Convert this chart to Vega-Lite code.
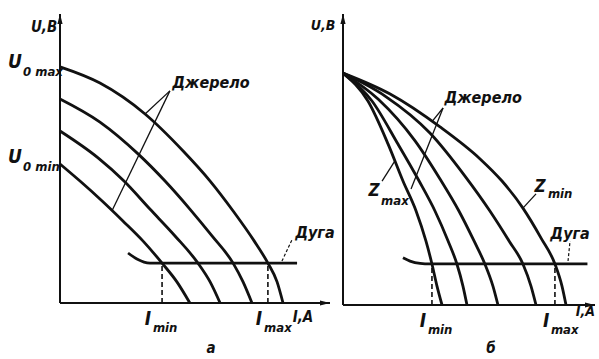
{
  "$schema": "https://vega.github.io/schema/vega-lite/v6.json",
  "background": "white",
  "padding": {"left": 7, "top": 10, "right": 0, "bottom": 0},
  "spacing": 13,
  "bounds": "flush",
  "config": {
    "view": {"stroke": null},
    "text": {"font": "Liberation Sans Narrow, DejaVu Sans Condensed, Liberation Sans", "fontStyle": "italic", "fontWeight": "bold", "color": "#111"},
    "line": {"color": "#111"},
    "point": {"color": "#111", "filled": true, "opacity": 1}
  },
  "datasets": {
    "axes": [
      {"a": "y", "I": 0, "U": 0}, {"a": "y", "I": 0, "U": 100},
      {"a": "x", "I": 0, "U": 0}, {"a": "x", "I": 100, "U": 0}
    ],
    "tipUp": [{"I": 0, "U": 100}],
    "tipRight": [{"I": 100, "U": 0}],
    "leftCurves": [
      {"c": 1, "I": 0, "U": 81.7}, {"c": 1, "I": 14.8, "U": 76.1}, {"c": 1, "I": 31.5, "U": 65.4}, {"c": 1, "I": 45.6, "U": 52.6}, {"c": 1, "I": 55.6, "U": 42.2}, {"c": 1, "I": 64.4, "U": 31.5}, {"c": 1, "I": 71.9, "U": 21.5}, {"c": 1, "I": 77.0, "U": 13.8}, {"c": 1, "I": 80.4, "U": 7.3}, {"c": 1, "I": 82.6, "U": 0},
      {"c": 2, "I": 0, "U": 70.6}, {"c": 2, "I": 14.8, "U": 62.6}, {"c": 2, "I": 28.9, "U": 51.6}, {"c": 2, "I": 38.9, "U": 42.2}, {"c": 2, "I": 48.1, "U": 32.5}, {"c": 2, "I": 56.3, "U": 23.2}, {"c": 2, "I": 64.1, "U": 13.8}, {"c": 2, "I": 67.8, "U": 7.3}, {"c": 2, "I": 71.1, "U": 0},
      {"c": 3, "I": 0, "U": 59.5}, {"c": 3, "I": 14.1, "U": 50.2}, {"c": 3, "I": 23.7, "U": 42.2}, {"c": 3, "I": 33.3, "U": 32.5}, {"c": 3, "I": 42.6, "U": 23.2}, {"c": 3, "I": 51.1, "U": 13.8}, {"c": 3, "I": 55.6, "U": 7.3}, {"c": 3, "I": 59.3, "U": 0},
      {"c": 4, "I": 0, "U": 48.1}, {"c": 4, "I": 7.4, "U": 42.2}, {"c": 4, "I": 15.6, "U": 35.3}, {"c": 4, "I": 23.3, "U": 28.4}, {"c": 4, "I": 30.7, "U": 21.5}, {"c": 4, "I": 37.8, "U": 13.8}, {"c": 4, "I": 43.3, "U": 7.3}, {"c": 4, "I": 48.1, "U": 0}
    ],
    "leftArc": [
      {"I": 25.2, "U": 17.3}, {"I": 28.5, "U": 15.2}, {"I": 33.3, "U": 13.8}, {"I": 40, "U": 13.8}, {"I": 87.8, "U": 13.8}
    ],
    "leftDrops": [
      {"k": "min", "I": 37.8, "U": 0}, {"k": "min", "I": 37.8, "U": 13.8},
      {"k": "max", "I": 77.0, "U": 0}, {"k": "max", "I": 77.0, "U": 13.8}
    ],
    "leftLeaders": [
      {"k": "s1", "I": 40.7, "U": 73.4}, {"k": "s1", "I": 31.5, "U": 65.4},
      {"k": "s2", "I": 40.7, "U": 73.4}, {"k": "s2", "I": 19.3, "U": 32.0}
    ],
    "leftArcLeader": [
      {"I": 82.2, "U": 14.5}, {"I": 85.9, "U": 21.8}
    ],
    "leftLabels": [
      {"kind": "big", "t": "U", "I": -16.7, "U": 83.4},
      {"kind": "sub", "t": "0 max", "I": -13.7, "U": 79.9},
      {"kind": "big", "t": "U", "I": -16.7, "U": 50.5},
      {"kind": "sub", "t": "0 min", "I": -13.7, "U": 47.2},
      {"kind": "big", "t": "I", "I": 32.6, "U": -5.5},
      {"kind": "sub", "t": "min", "I": 34.4, "U": -8.7},
      {"kind": "big", "t": "I", "I": 73.7, "U": -5.5},
      {"kind": "sub", "t": "max", "I": 75.6, "U": -8.7},
      {"kind": "word", "t": "Джерело", "I": 55.9, "U": 76.1},
      {"kind": "word", "t": "Дуга", "I": 94.4, "U": 24.2},
      {"kind": "unit", "t": "U,B", "I": -5.9, "U": 95.5},
      {"kind": "unit", "t": "I,A", "I": 90.0, "U": -4.8},
      {"kind": "letter", "t": "а", "I": 55.9, "U": -15.5}
    ],
    "rightCurves": [
      {"c": 1, "I": 0, "U": 79.7}, {"c": 1, "I": 9.9, "U": 70.1}, {"c": 1, "I": 17.9, "U": 55.3}, {"c": 1, "I": 23.8, "U": 42.6}, {"c": 1, "I": 29.0, "U": 32.3}, {"c": 1, "I": 32.9, "U": 22.0}, {"c": 1, "I": 35.3, "U": 14.1}, {"c": 1, "I": 37.3, "U": 6.5}, {"c": 1, "I": 39.3, "U": 0},
      {"c": 2, "I": 0, "U": 79.7}, {"c": 2, "I": 11.5, "U": 70.1}, {"c": 2, "I": 21.8, "U": 55.3}, {"c": 2, "I": 30.2, "U": 42.6}, {"c": 2, "I": 36.5, "U": 32.3}, {"c": 2, "I": 41.7, "U": 22.0}, {"c": 2, "I": 45.2, "U": 14.1}, {"c": 2, "I": 47.6, "U": 6.5}, {"c": 2, "I": 49.2, "U": 0},
      {"c": 3, "I": 0, "U": 79.7}, {"c": 3, "I": 13.9, "U": 70.8}, {"c": 3, "I": 28.6, "U": 56.4}, {"c": 3, "I": 38.5, "U": 43.3}, {"c": 3, "I": 46.0, "U": 32.3}, {"c": 3, "I": 52.0, "U": 22.0}, {"c": 3, "I": 56.3, "U": 14.1}, {"c": 3, "I": 59.5, "U": 6.5}, {"c": 3, "I": 61.5, "U": 0},
      {"c": 4, "I": 0, "U": 79.7}, {"c": 4, "I": 16.7, "U": 71.8}, {"c": 4, "I": 34.5, "U": 59.1}, {"c": 4, "I": 48.4, "U": 44.3}, {"c": 4, "I": 58.3, "U": 32.3}, {"c": 4, "I": 65.9, "U": 22.0}, {"c": 4, "I": 71.4, "U": 14.1}, {"c": 4, "I": 74.6, "U": 6.5}, {"c": 4, "I": 76.6, "U": 0},
      {"c": 5, "I": 0, "U": 79.7}, {"c": 5, "I": 18.7, "U": 72.5}, {"c": 5, "I": 38.5, "U": 61.2}, {"c": 5, "I": 54.4, "U": 50.2}, {"c": 5, "I": 63.1, "U": 42.6}, {"c": 5, "I": 71.4, "U": 33.3}, {"c": 5, "I": 78.6, "U": 23.0}, {"c": 5, "I": 84.1, "U": 14.1}, {"c": 5, "I": 86.9, "U": 6.5}, {"c": 5, "I": 88.5, "U": 0}
    ],
    "rightArc": [
      {"I": 23.8, "U": 16.2}, {"I": 26.6, "U": 15.1}, {"I": 30.6, "U": 14.3}, {"I": 34.5, "U": 14.1}, {"I": 97.0, "U": 14.1}
    ],
    "rightDrops": [
      {"k": "min", "I": 35.3, "U": 0}, {"k": "min", "I": 35.3, "U": 14.1},
      {"k": "max", "I": 84.1, "U": 0}, {"k": "max", "I": 84.1, "U": 14.1}
    ],
    "rightLeaders": [
      {"k": "s1", "I": 39.7, "U": 67.7}, {"k": "s1", "I": 35.3, "U": 63.0},
      {"k": "s2", "I": 39.7, "U": 67.7}, {"k": "s2", "I": 27.0, "U": 39.9},
      {"k": "zmax", "I": 15.5, "U": 42.6}, {"k": "zmax", "I": 20.6, "U": 49.5},
      {"k": "zmin", "I": 71.4, "U": 33.3}, {"k": "zmin", "I": 76.6, "U": 38.2}
    ],
    "rightArcLeader": [
      {"I": 90.1, "U": 22.0}, {"I": 89.3, "U": 15.1}
    ],
    "rightLabels": [
      {"kind": "big", "t": "I", "I": 31.7, "U": -5.5},
      {"kind": "sub", "t": "min", "I": 33.7, "U": -8.6},
      {"kind": "big", "t": "I", "I": 80.6, "U": -5.5},
      {"kind": "sub", "t": "max", "I": 82.5, "U": -8.6},
      {"kind": "zbig", "t": "Z", "I": 12.3, "U": 39.2},
      {"kind": "zsub", "t": "max", "I": 15.1, "U": 35.7},
      {"kind": "zbig", "t": "Z", "I": 78.2, "U": 40.5},
      {"kind": "zsub", "t": "min", "I": 81.3, "U": 38.1},
      {"kind": "word", "t": "Джерело", "I": 55.6, "U": 71.1},
      {"kind": "word", "t": "Дуга", "I": 90.1, "U": 24.4},
      {"kind": "unit", "t": "U,B", "I": -7.9, "U": 95.9},
      {"kind": "unit", "t": "I,A", "I": 96.2, "U": -2.4},
      {"kind": "letter", "t": "б", "I": 58.7, "U": -14.8}
    ]
  },
  "hconcat": [
    {
      "width": 270,
      "height": 289,
      "encoding": {
        "x": {"field": "I", "type": "quantitative", "scale": {"domain": [0, 100], "nice": false, "zero": false}, "axis": null},
        "y": {"field": "U", "type": "quantitative", "scale": {"domain": [0, 100], "nice": false, "zero": false}, "axis": null}
      },
      "layer": [
        {"data": {"name": "axes"}, "mark": {"type": "line", "strokeWidth": 2}, "encoding": {"detail": {"field": "a"}}},
        {"data": {"name": "tipUp"}, "mark": {"type": "point", "shape": "M0,0L-2.6,10L2.6,10Z", "size": 4}},
        {"data": {"name": "tipRight"}, "mark": {"type": "point", "shape": "M0,0L-10,-2.6L-10,2.6Z", "size": 4}},
        {"data": {"name": "leftCurves"}, "mark": {"type": "line", "strokeWidth": 2.8, "interpolate": "monotone"}, "encoding": {"detail": {"field": "c"}}},
        {"data": {"name": "leftArc"}, "mark": {"type": "line", "strokeWidth": 2.8, "interpolate": "monotone"}},
        {"data": {"name": "leftDrops"}, "mark": {"type": "line", "strokeWidth": 1.6, "strokeDash": [5, 3]}, "encoding": {"detail": {"field": "k"}}},
        {"data": {"name": "leftLeaders"}, "mark": {"type": "line", "strokeWidth": 1.3}, "encoding": {"detail": {"field": "k"}}},
        {"data": {"name": "leftArcLeader"}, "mark": {"type": "line", "strokeWidth": 1.2, "strokeDash": [3, 2]}},
        {"data": {"name": "leftLabels"}, "transform": [{"filter": "datum.kind === 'big'"}], "mark": {"type": "text", "fontSize": 19}, "encoding": {"text": {"field": "t"}}},
        {"data": {"name": "leftLabels"}, "transform": [{"filter": "datum.kind === 'sub'"}], "mark": {"type": "text", "fontSize": 13, "align": "left"}, "encoding": {"text": {"field": "t"}}},
        {"data": {"name": "leftLabels"}, "transform": [{"filter": "datum.kind === 'word'"}], "mark": {"type": "text", "fontSize": 16}, "encoding": {"text": {"field": "t"}}},
        {"data": {"name": "leftLabels"}, "transform": [{"filter": "datum.kind === 'unit'"}], "mark": {"type": "text", "fontSize": 15}, "encoding": {"text": {"field": "t"}}},
        {"data": {"name": "leftLabels"}, "transform": [{"filter": "datum.kind === 'letter'"}], "mark": {"type": "text", "fontSize": 15}, "encoding": {"text": {"field": "t"}}}
      ]
    },
    {
      "width": 252,
      "height": 291,
      "encoding": {
        "x": {"field": "I", "type": "quantitative", "scale": {"domain": [0, 100], "nice": false, "zero": false}, "axis": null},
        "y": {"field": "U", "type": "quantitative", "scale": {"domain": [0, 100], "nice": false, "zero": false}, "axis": null}
      },
      "layer": [
        {"data": {"name": "axes"}, "mark": {"type": "line", "strokeWidth": 2}, "encoding": {"detail": {"field": "a"}}},
        {"data": {"name": "tipUp"}, "mark": {"type": "point", "shape": "M0,0L-2.6,10L2.6,10Z", "size": 4}},
        {"data": {"name": "tipRight"}, "mark": {"type": "point", "shape": "M0,0L-10,-2.6L-10,2.6Z", "size": 4}},
        {"data": {"name": "rightCurves"}, "mark": {"type": "line", "strokeWidth": 2.8, "interpolate": "monotone"}, "encoding": {"detail": {"field": "c"}}},
        {"data": {"name": "rightArc"}, "mark": {"type": "line", "strokeWidth": 2.8, "interpolate": "monotone"}},
        {"data": {"name": "rightDrops"}, "mark": {"type": "line", "strokeWidth": 1.6, "strokeDash": [5, 3]}, "encoding": {"detail": {"field": "k"}}},
        {"data": {"name": "rightLeaders"}, "mark": {"type": "line", "strokeWidth": 1.3}, "encoding": {"detail": {"field": "k"}}},
        {"data": {"name": "rightArcLeader"}, "mark": {"type": "line", "strokeWidth": 1.2, "strokeDash": [3, 2]}},
        {"data": {"name": "rightLabels"}, "transform": [{"filter": "datum.kind === 'big'"}], "mark": {"type": "text", "fontSize": 19}, "encoding": {"text": {"field": "t"}}},
        {"data": {"name": "rightLabels"}, "transform": [{"filter": "datum.kind === 'sub'"}], "mark": {"type": "text", "fontSize": 13, "align": "left"}, "encoding": {"text": {"field": "t"}}},
        {"data": {"name": "rightLabels"}, "transform": [{"filter": "datum.kind === 'zbig'"}], "mark": {"type": "text", "fontSize": 17}, "encoding": {"text": {"field": "t"}}},
        {"data": {"name": "rightLabels"}, "transform": [{"filter": "datum.kind === 'zsub'"}], "mark": {"type": "text", "fontSize": 13, "align": "left"}, "encoding": {"text": {"field": "t"}}},
        {"data": {"name": "rightLabels"}, "transform": [{"filter": "datum.kind === 'word'"}], "mark": {"type": "text", "fontSize": 16}, "encoding": {"text": {"field": "t"}}},
        {"data": {"name": "rightLabels"}, "transform": [{"filter": "datum.kind === 'unit'"}], "mark": {"type": "text", "fontSize": 14}, "encoding": {"text": {"field": "t"}}},
        {"data": {"name": "rightLabels"}, "transform": [{"filter": "datum.kind === 'letter'"}], "mark": {"type": "text", "fontSize": 15}, "encoding": {"text": {"field": "t"}}}
      ]
    }
  ]
}
